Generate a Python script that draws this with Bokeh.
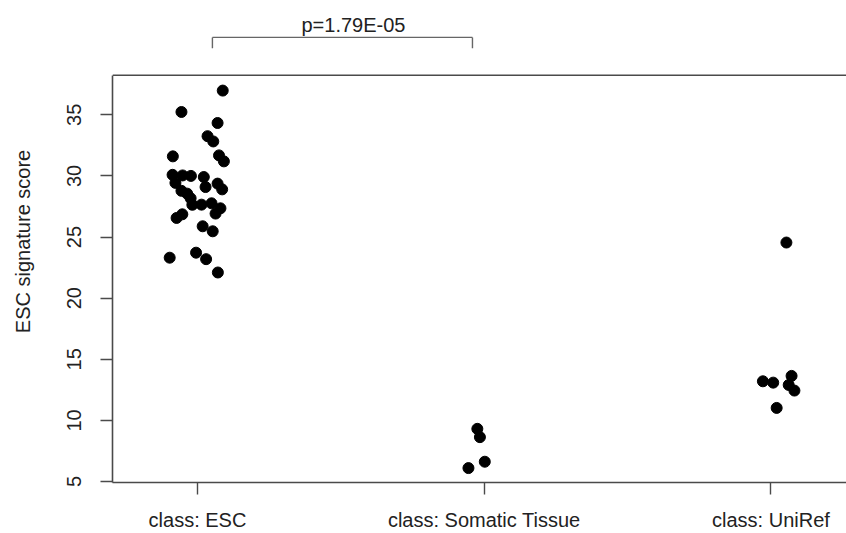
from bokeh.plotting import figure
from bokeh.models import FixedTicker, Range1d
from bokeh.core.properties import value
from bokeh.embed import file_html
from bokeh.resources import INLINE

# ---- data ----
categories = ["class: ESC", "class: Somatic Tissue", "class: UniRef"]
cat_pos = [1, 2, 3]

esc_values = [36.98, 35.23, 34.33, 33.25, 32.82, 31.60, 31.68, 31.19, 30.09, 29.43,
              30.04, 30.00, 29.91, 29.09, 29.37, 28.90, 28.78, 28.55, 28.17, 27.64,
              27.65, 27.76, 27.35, 26.92, 26.56, 26.86, 25.88, 25.47, 23.31, 23.72,
              23.19, 22.10]
esc_jitter = [0.088, -0.056, 0.070, 0.035, 0.055, -0.086, 0.075, 0.092, -0.087, -0.077,
              -0.052, -0.023, 0.022, 0.028, 0.070, 0.086, -0.056, -0.036, -0.024, -0.018,
              0.014, 0.049, 0.080, 0.063, -0.073, -0.053, 0.018, 0.053, -0.097, -0.005,
              0.030, 0.071]

som_values = [9.31, 8.63, 6.62, 6.10]
som_jitter = [-0.024, -0.015, 0.002, -0.055]

uni_values = [24.55, 13.20, 13.09, 13.64, 12.90, 12.44, 11.02]
uni_jitter = [0.054, -0.028, 0.008, 0.072, 0.062, 0.082, 0.020]

y_ticks = [5, 10, 15, 20, 25, 30, 35]
p_label = "p=1.79E-05"

# ---- layout constants ----
FONT = "Liberation Sans"
LINE = "#4a4a4a"
TEXT = "#222222"
y_lo, y_box_top, y_hi = 4.92, 38.23, 44.35
x_lo, x_hi = 0.7035, 3.2636

p = figure(width=846, height=533, output_backend="svg", toolbar_location=None,
           x_range=Range1d(x_lo, x_hi), y_range=Range1d(y_lo, y_hi),
           min_border_left=112, min_border_right=0, min_border_top=0,
           min_border_bottom=50, outline_line_color=None)
p.grid.visible = False

# points
xs = [cat_pos[0] + j for j in esc_jitter] + [cat_pos[1] + j for j in som_jitter] + \
     [cat_pos[2] + j for j in uni_jitter]
ys = esc_values + som_values + uni_values
p.scatter(xs, ys, size=11, color="black", line_color="black")

# box top border
p.segment(x0=[x_lo], y0=[y_box_top], x1=[x_hi], y1=[y_box_top], line_color=LINE, line_width=1.6)

# significance bracket
bx0, bx1 = cat_pos[0] + 0.052, cat_pos[1] - 0.041
by_top, by_bot = 41.33, 40.44
p.segment(x0=[bx0, bx0, bx1], y0=[by_top, by_top, by_top],
          x1=[bx1, bx0, bx1], y1=[by_top, by_bot, by_bot],
          line_color="#666666", line_width=1.4)
p.text(x=[1.544], y=[42.33], text=[p_label], text_align="center",
       text_baseline="alphabetic", text_font=value(FONT), text_font_size="20px",
       text_color=TEXT)

# axes
xa = p.xaxis[0]
xa.ticker = FixedTicker(ticks=cat_pos)
xa.major_label_overrides = {c: l for c, l in zip(cat_pos, categories)}
ya = p.yaxis[0]
ya.ticker = FixedTicker(ticks=y_ticks)
ya.bounds = (y_lo, y_box_top)
ya.major_label_orientation = "vertical"
ya.axis_label = "ESC signature score"

for ax in (xa, ya):
    ax.axis_line_color = LINE
    ax.axis_line_width = 1.6
    ax.major_tick_line_color = LINE
    ax.major_tick_line_width = 1.4
    ax.major_tick_out = 12
    ax.major_tick_in = 0
    ax.minor_tick_line_color = None
    ax.major_label_text_font = FONT
    ax.major_label_text_font_size = "20px"
    ax.major_label_text_color = TEXT
    ax.axis_label_text_font = FONT
    ax.axis_label_text_font_size = "20px"
    ax.axis_label_text_font_style = "normal"
    ax.axis_label_text_color = TEXT

xa.major_label_standoff = 14
ya.major_label_standoff = 19
ya.axis_label_standoff = 31

open("out.html", "w").write(file_html(p, INLINE))
